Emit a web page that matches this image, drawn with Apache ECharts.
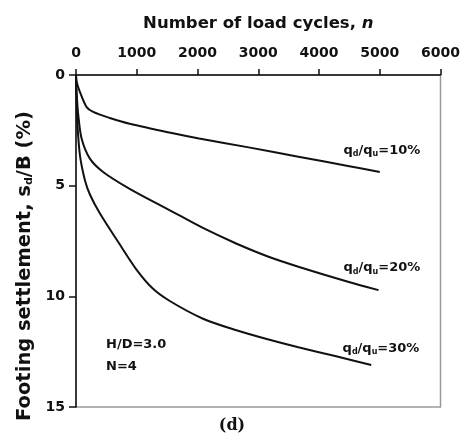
<!DOCTYPE html>
<html>
<head>
<meta charset="utf-8">
<script src="https://cdn.jsdelivr.net/npm/echarts@6/dist/echarts.min.js"></script>
<style>
  html, body { margin: 0; padding: 0; background: #fff; }
  #chart { width: 463px; height: 439px; }
</style>
</head>
<body>
<div id="chart"></div>
<script>
// Number of load cycles and footing settlement (%) for each load ratio
const cycles10 = [0, 10, 65, 175, 283, 556, 883, 1537, 2026, 2843, 3660, 4477, 5000];
const settle10 = [0, 0.3, 0.77, 1.45, 1.67, 1.94, 2.2, 2.6, 2.87, 3.27, 3.69, 4.11, 4.38];

const cycles20 = [0, 10, 38, 93, 229, 446, 883, 1537, 2081, 2626, 3170, 3660, 4477, 4980];
const settle20 = [0, 0.8, 1.82, 2.88, 3.78, 4.38, 5.14, 6.1, 6.9, 7.6, 8.21, 8.66, 9.34, 9.72];

const cycles30 = [0, 8, 21, 65, 147, 229, 392, 719, 992, 1264, 1537, 2081, 2626, 3170, 3660, 4300, 4860];
const settle30 = [0, 1.0, 2.12, 3.63, 4.75, 5.4, 6.25, 7.65, 8.78, 9.65, 10.2, 11.0, 11.52, 11.95, 12.3, 12.72, 13.1];

// Curve labels: ratio text and the data point each label is centred on
const ratioLabels = ['10%', '20%', '30%'];
const labelAnchors = [[5035, 3.43], [5035, 8.72], [5020, 12.34]];

const xTicks = { min: 0, max: 6000, interval: 1000 };
const yTicks = { min: 0, max: 15, interval: 5 };

const SANS = '"DejaVu Sans", sans-serif';
const INK = '#111';

function pairs(xs, ys) { return xs.map((x, i) => [x, ys[i]]); }

const curveRich = {
  sub: { fontSize: 8, lineHeight: 8, verticalAlign: 'bottom', fontWeight: 'bold', fontFamily: SANS, color: INK }
};

function curve(xs, ys, idx) {
  return {
    type: 'line',
    data: pairs(xs, ys),
    showSymbol: false,
    smooth: 0.3,
    lineStyle: { color: INK, width: 2 },
    silent: true,
    markPoint: {
      symbol: 'circle',
      symbolSize: 0,
      silent: true,
      label: {
        show: true,
        position: 'inside',
        formatter: 'q{sub|d}/q{sub|u}=' + ratioLabels[idx],
        fontFamily: SANS,
        fontWeight: 'bold',
        fontSize: 13,
        lineHeight: 15,
        color: INK,
        rich: curveRich
      },
      data: [{ coord: labelAnchors[idx] }]
    }
  };
}

const chart = echarts.init(document.getElementById('chart'), null, { renderer: 'canvas' });

chart.setOption({
  animation: false,
  backgroundColor: '#fff',
  grid: {
    left: 76, right: 20, top: 75, bottom: 32,
    show: true, borderColor: '#9a9a9a', borderWidth: 1.5, backgroundColor: 'transparent'
  },
  xAxis: {
    type: 'value',
    position: 'top',
    min: xTicks.min, max: xTicks.max, interval: xTicks.interval,
    name: 'Number of load cycles, {it|n}',
    nameLocation: 'middle',
    nameGap: 43,
    nameTextStyle: {
      fontFamily: SANS, fontWeight: 'bold', fontSize: 16.5, color: INK,
      rich: { it: { fontStyle: 'italic', fontWeight: 'bold', fontFamily: SANS, fontSize: 16.5, color: INK } }
    },
    axisLine: { show: true, lineStyle: { color: INK, width: 1.5 } },
    axisTick: { show: true, inside: false, length: 6, lineStyle: { color: INK, width: 1.5 } },
    axisLabel: {
      fontFamily: SANS, fontWeight: 'bold', fontSize: 14, color: INK, margin: 15,
      formatter: v => String(v)
    },
    splitLine: { show: false }
  },
  yAxis: {
    type: 'value',
    inverse: true,
    min: yTicks.min, max: yTicks.max, interval: yTicks.interval,
    axisLine: { show: true, lineStyle: { color: INK, width: 1.5 } },
    axisTick: { show: true, inside: false, length: 7, lineStyle: { color: INK, width: 1.5 } },
    axisLabel: { fontFamily: SANS, fontWeight: 'bold', fontSize: 14, color: INK, margin: 11 },
    splitLine: { show: false }
  },
  graphic: [
    {
      type: 'text',
      x: 25, y: 266,
      rotation: Math.PI / 2,
      style: {
        text: 'Footing settlement, s{sub|d}/B (%)',
        fontFamily: SANS, fontWeight: 'bold', fontSize: 19.5, fill: INK,
        align: 'center', verticalAlign: 'middle',
        rich: { sub: { fontSize: 11, lineHeight: 11, verticalAlign: 'bottom', fontWeight: 'bold', fontFamily: SANS, fill: INK } }
      }
    },
    {
      type: 'text', x: 106, y: 345,
      style: { text: 'H/D=3.0', fontFamily: SANS, fontWeight: 'bold', fontSize: 13, fill: INK, verticalAlign: 'middle' }
    },
    {
      type: 'text', x: 106, y: 367,
      style: { text: 'N=4', fontFamily: SANS, fontWeight: 'bold', fontSize: 13, fill: INK, verticalAlign: 'middle' }
    },
    {
      type: 'text', x: 232, y: 426,
      style: { text: '(d)', fontFamily: '"DejaVu Serif", serif', fontWeight: 'bold', fontSize: 16, fill: INK, align: 'center', verticalAlign: 'middle' }
    }
  ],
  series: [
    curve(cycles10, settle10, 0),
    curve(cycles20, settle20, 1),
    curve(cycles30, settle30, 2)
  ]
});
</script>
</body>
</html>
